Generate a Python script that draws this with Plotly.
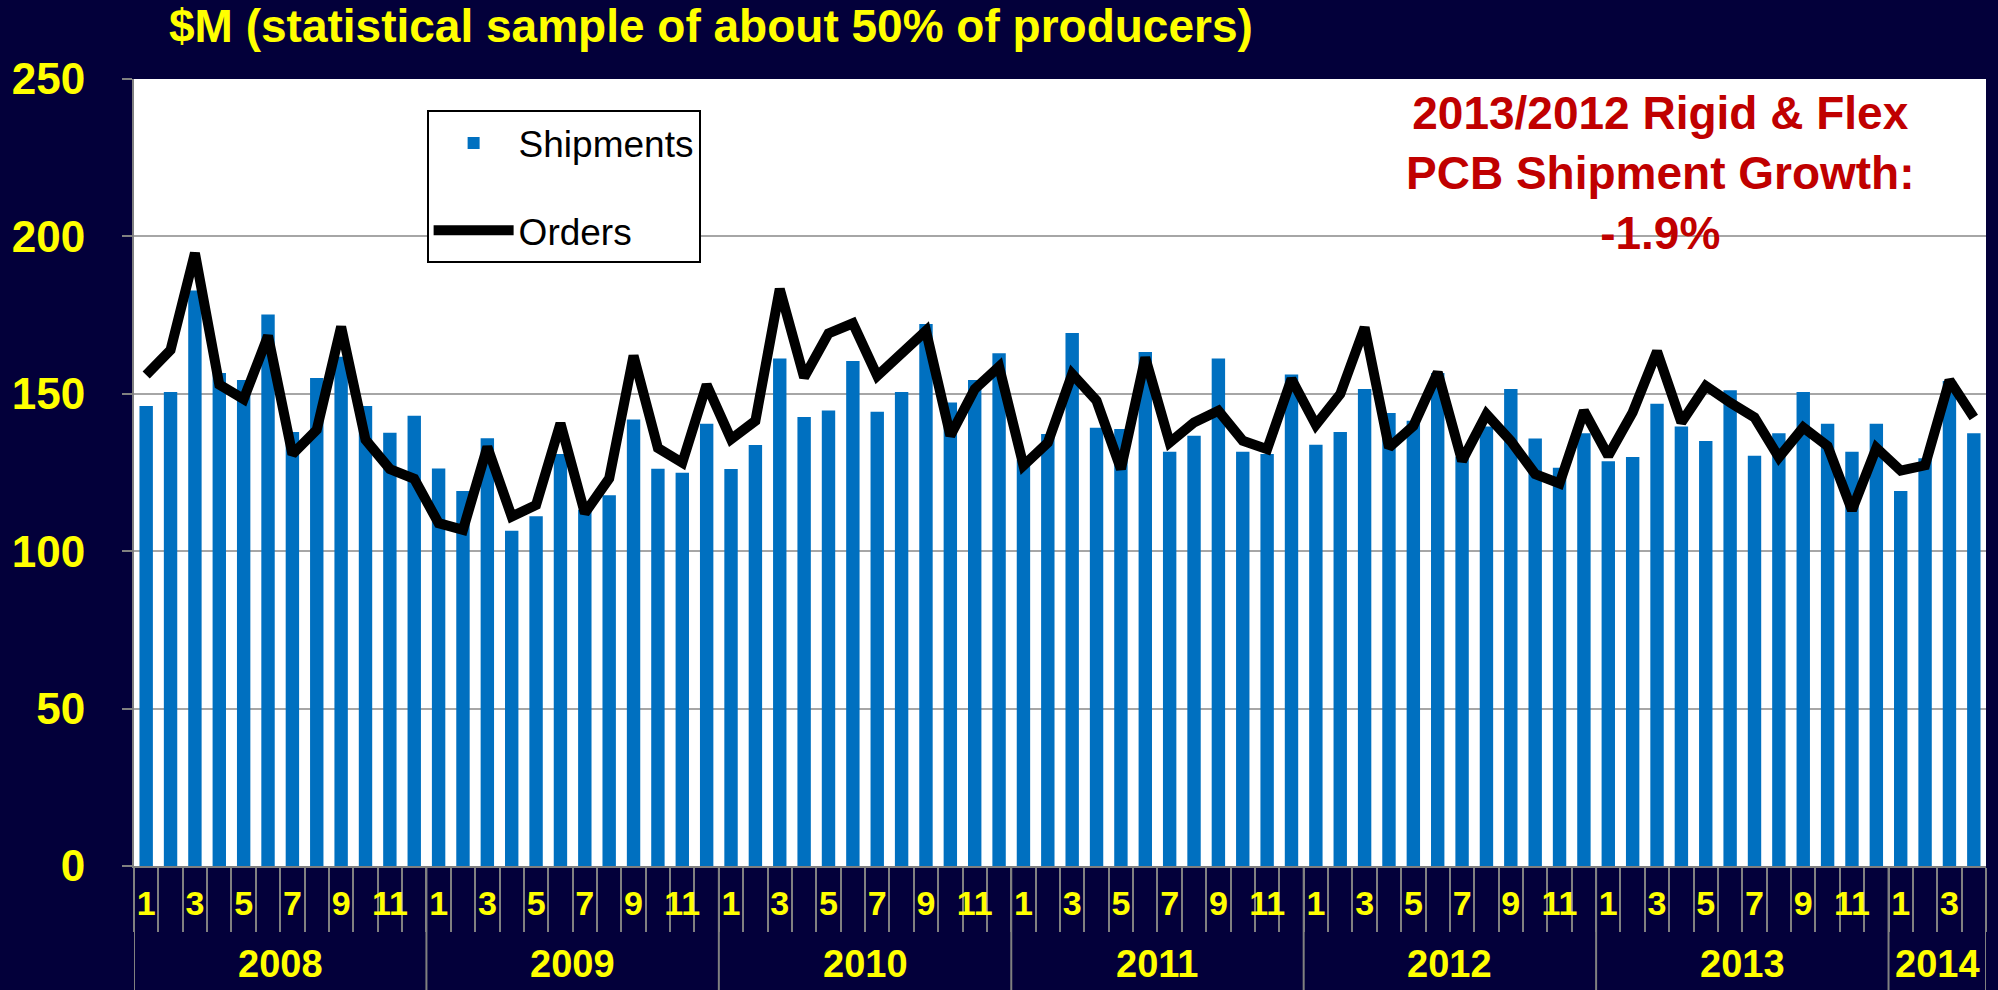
import plotly.graph_objects as go

# PCB shipments vs orders, $M per month
years = [2008, 2009, 2010, 2011, 2012, 2013, 2014]
months_in_year = [12, 12, 12, 12, 12, 12, 4]

shipments = [
    146.1, 150.6, 182.8, 156.6, 154.4, 175.2, 137.9, 155.0, 161.8, 146.1, 137.6, 143.0,  # 2008
    126.3, 119.1, 135.9, 106.5, 111.1, 130.9, 113.2, 117.8, 141.8, 126.2, 124.9, 140.5,  # 2009
    126.1, 133.7, 161.2, 142.6, 144.7, 160.4, 144.3, 150.6, 172.2, 147.2, 154.4, 162.9,  # 2010
    129.0, 137.2, 169.3, 139.2, 138.8, 163.3, 131.6, 136.7, 161.2, 131.6, 130.9, 156.1,  # 2011
    133.8, 137.9, 151.5, 143.9, 141.4, 156.6, 130.0, 139.6, 151.5, 135.8, 126.5, 137.5,  # 2012
    128.6, 129.9, 146.8, 139.6, 135.0, 151.1, 130.3, 137.5, 150.6, 140.5, 131.6, 140.5,  # 2013
    119.1, 129.5, 154.1, 137.5,                                                          # 2014
]

orders = [
    156.0, 163.9, 194.7, 152.9, 148.3, 168.4, 130.8, 138.6, 171.3, 135.4, 126.1, 123.0,  # 2008
    108.9, 106.8, 133.1, 111.0, 114.7, 140.6, 112.1, 123.1, 162.1, 132.8, 128.1, 152.9,  # 2009
    135.6, 141.4, 183.3, 155.2, 169.2, 172.4, 155.7, 162.8, 170.0, 136.7, 151.5, 158.6,  # 2010
    127.2, 134.5, 156.3, 147.8, 126.1, 161.5, 134.5, 140.9, 144.6, 135.1, 132.4, 154.7,  # 2011
    140.1, 149.9, 171.1, 132.9, 139.8, 156.8, 128.7, 143.5, 135.0, 124.5, 121.5, 144.6,  # 2012
    130.3, 144.1, 163.5, 140.9, 152.5, 147.2, 142.5, 129.8, 139.3, 133.4, 113.0, 132.8,  # 2013
    125.6, 127.3, 154.3, 142.5,                                                          # 2014
]

y_ticks = [0, 50, 100, 150, 200, 250]

title_text = "$M (statistical sample of about 50% of producers)"
note_text = "2013/2012 Rigid &amp; Flex<br>PCB Shipment Growth:<br>-1.9%"

FONT = "Liberation Sans, Arial, sans-serif"
YELLOW = "#FFFF00"
GREY = "#808080"
NAVY = "#03003A"

# month number of each bar
month_num = []
for n in months_in_year:
    month_num += list(range(1, n + 1))
pos = list(range(len(month_num)))

fig = go.Figure()

fig.add_trace(go.Bar(
    x=pos, y=shipments, name="Shipments",
    marker=dict(color="#0070C0", line=dict(width=0)),
    legendgroup="a",
))

fig.add_trace(go.Scatter(
    x=pos, y=orders, name="Orders", mode="lines",
    line=dict(color="black", width=10),
    legendgroup="b",
))

# year dividers and year labels under the month row
shapes = []
annotations = []
start = 0
for yr, n in zip(years, months_in_year):
    shapes.append(dict(type="line", xref="x", yref="paper",
                       x0=start - 0.5, x1=start - 0.5, y0=0, y1=-0.16,
                       line=dict(color=GREY, width=2)))
    annotations.append(dict(x=start + (n - 1) / 2, y=-0.125, xref="x", yref="paper",
                            text=str(yr), showarrow=False, yanchor="middle",
                            font=dict(family=FONT, size=38, color=YELLOW, weight="bold")))
    start += n
shapes.append(dict(type="line", xref="x", yref="paper",
                   x0=start - 0.5, x1=start - 0.5, y0=0, y1=-0.16,
                   line=dict(color=GREY, width=2)))

annotations.append(dict(
    x=0.8245, y=0.993, xref="paper", yref="paper",
    text=note_text, showarrow=False, xanchor="center", yanchor="top", align="center",
    font=dict(family=FONT, size=46, color="#C00000", weight="bold"),
))

fig.update_layout(
    width=1998, height=990,
    margin=dict(l=129, r=12, t=79, b=124),
    paper_bgcolor=NAVY,
    plot_bgcolor="white",
    bargap=0.45,
    font=dict(family=FONT),
    title=dict(
        text=title_text, xref="container", yref="container",
        x=0.0846, xanchor="left", y=0.974, yanchor="middle",
        font=dict(family=FONT, size=46, color=YELLOW, weight="bold"),
    ),
    legend=dict(
        x=0.158, y=0.96, xanchor="left", yanchor="top",
        bgcolor="white", bordercolor="black", borderwidth=2,
        font=dict(family=FONT, size=37, color="black"),
        traceorder="grouped", tracegroupgap=36, itemwidth=80,
    ),
    xaxis=dict(
        range=[-0.5, len(pos) - 0.5],
        tickmode="array",
        tickvals=[p for p, m in zip(pos, month_num) if m % 2 == 1],
        ticktext=[str(m) for m in month_num if m % 2 == 1],
        ticks="", ticklabelstandoff=6,
        tickfont=dict(family=FONT, size=34, color=YELLOW, weight="bold"),
        showgrid=False, zeroline=False,
        showline=True, linecolor=GREY, linewidth=2,
        minor=dict(ticks="outside", tickmode="linear", tick0=-0.5, dtick=1,
                   ticklen=64, tickcolor=GREY, tickwidth=2, showgrid=False),
    ),
    yaxis=dict(
        range=[0, 250], tickmode="array", tickvals=y_ticks,
        ticks="outside", ticklen=10, tickcolor=GREY, tickwidth=2,
        ticklabelstandoff=28,
        tickfont=dict(family=FONT, size=44, color=YELLOW, weight="bold"),
        showgrid=True, gridcolor="#A6A6A6", gridwidth=2,
        zeroline=False, showline=True, linecolor=GREY, linewidth=2,
    ),
    shapes=shapes,
    annotations=annotations,
)

# the page body has a default 8px margin; drop it so the figure fills the window
fig.write_html(
    "out.html",
    config={"displayModeBar": False},
    post_script="document.body.style.margin='0';document.body.style.background='#03003A';",
)
